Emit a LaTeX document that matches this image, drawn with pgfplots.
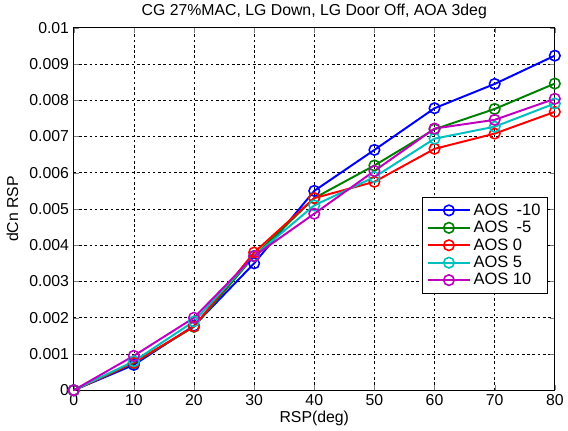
\documentclass[border=0pt]{standalone}
\usepackage{pgfplots}
\pgfplotsset{compat=1.18}
\usepackage{fontspec}
\setmainfont{Liberation Sans}
\definecolor{mgreen}{rgb}{0,0.5,0}
\definecolor{mcyan}{rgb}{0,0.75,0.75}
\definecolor{mmag}{rgb}{0.75,0,0.75}
\begin{document}
\begin{tikzpicture}
\begin{axis}[
  scale only axis, width=365pt, height=275pt,
  font=\fontsize{12}{14}\selectfont,
  xmin=0, xmax=80, ymin=0, ymax=0.01,
  xtick={0,10,...,80},
  ytick={0,0.001,...,0.0101},
  scaled y ticks=false,
  yticklabel style={/pgf/number format/.cd, fixed, precision=3},
  /pgf/number format/assume math mode=true,
  tick align=inside, major tick length=4pt,
  grid=major,
  major grid style={black, line width=0.5pt, dash pattern=on 2pt off 2pt},
  axis line style={black, line width=0.8pt},
  title={CG 27\%MAC, LG Down, LG Door Off, AOA 3deg},
  title style={yshift=-3pt},
  xlabel={RSP(deg)}, ylabel={dCn RSP},
  xlabel style={yshift=3pt}, ylabel style={inner sep=5pt},
  legend style={at={(0.985,0.40)}, anchor=east, draw=black, line width=0.8pt, font=\fontsize{12.5}{14}\selectfont, row sep=-1pt, inner sep=3pt},
  legend cell align=left,
  legend image code/.code={\draw[mark repeat=2, mark phase=2] plot coordinates {(0pt,0pt) (16pt,0pt) (32pt,0pt)};},
  every axis plot/.append style={line width=1.5pt, mark=o, mark size=4pt, mark options={solid, line width=1.2pt}},
]
\addplot[blue] coordinates {(0,0) (10,0.0007) (20,0.00178) (30,0.0035) (40,0.0055) (50,0.00663) (60,0.00778) (70,0.00845) (80,0.00923)};
\addlegendentry{AOS\hspace{0.5em}-10}
\addplot[mgreen] coordinates {(0,0) (10,0.00075) (20,0.00175) (30,0.0037) (40,0.0053) (50,0.0062) (60,0.0072) (70,0.00776) (80,0.00846)};
\addlegendentry{AOS\hspace{0.5em}-5}
\addplot[red] coordinates {(0,0) (10,0.00076) (20,0.00176) (30,0.0038) (40,0.0053) (50,0.00575) (60,0.00666) (70,0.00708) (80,0.00768)};
\addlegendentry{AOS 0}
\addplot[mcyan] coordinates {(0,0) (10,0.0008) (20,0.0019) (30,0.0037) (40,0.0051) (50,0.00588) (60,0.00694) (70,0.00727) (80,0.00791)};
\addlegendentry{AOS 5}
\addplot[mmag] coordinates {(0,0) (10,0.00095) (20,0.002) (30,0.0037) (40,0.00487) (50,0.00605) (60,0.00722) (70,0.00746) (80,0.00804)};
\addlegendentry{AOS 10}
\end{axis}
\end{tikzpicture}
\end{document}
